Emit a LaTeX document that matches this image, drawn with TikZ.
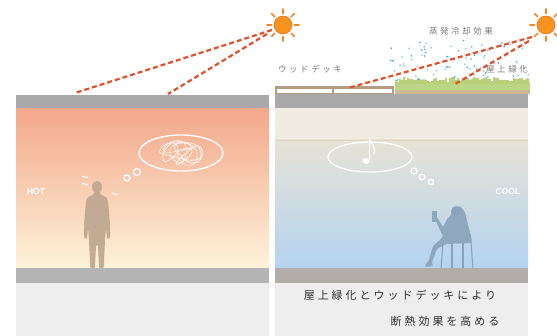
\documentclass[tikz,border=0pt]{standalone}
\usepackage{fontspec}
\newfontfamily\jp{Noto Sans CJK JP}
\newfontfamily\lat{Liberation Sans}
\usetikzlibrary{calc}

\definecolor{slab}{HTML}{A9A9A9}
\definecolor{floorL}{HTML}{B4B4B4}
\definecolor{floorR}{HTML}{B2ADA9}
\definecolor{basebox}{HTML}{EEEEEE}
\definecolor{raycol}{HTML}{E0502A}
\definecolor{sunfill}{HTML}{F7931E}
\definecolor{sunedge}{HTML}{EC701A}
\definecolor{sunray}{HTML}{F5841F}
\definecolor{deck}{HTML}{B39C82}
\definecolor{grass}{HTML}{BCD784}
\definecolor{soil}{HTML}{CDB894}
\definecolor{labelgrey}{HTML}{7A7A7A}
\definecolor{captiongrey}{HTML}{2E2E2E}
\definecolor{mancol}{HTML}{BDA68E}
\definecolor{womancol}{HTML}{8AA3BA}
\definecolor{hotTop}{HTML}{F3A78A}
\definecolor{hotMid}{HTML}{F8C79E}
\definecolor{hotBot}{HTML}{FDF3DA}
\definecolor{coolTop}{HTML}{F0ECE1}
\definecolor{coolUpper}{HTML}{E7E3D6}
\definecolor{coolMid}{HTML}{CCD5DB}
\definecolor{coolBot}{HTML}{B4D3F1}
\definecolor{mistA}{HTML}{3BA6DC}
\definecolor{mistB}{HTML}{9CCBE0}

\tikzset{
  sunray/.style={draw=sunray, line width=1.6pt, line cap=round},
  sundisc/.style={circle, fill=sunfill, draw=sunedge, line width=0.6pt, minimum size=18pt, inner sep=0pt},
  heatray/.style={draw=raycol, line width=2.2pt, dash pattern=on 5pt off 3pt},
  bubble/.style={draw=white, line width=1.3pt},
  labeltext/.style={text=labelgrey, font=\jp\fontsize{8.5}{10}\selectfont\addfontfeature{LetterSpace=30}},
  caption/.style={text=captiongrey, font=\jp\fontsize{11}{13}\selectfont\addfontfeature{LetterSpace=27}},
  tempword/.style={text=white, font=\lat\bfseries\fontsize{8.5}{10}\selectfont},
  figure/.style={fill=#1, draw=none, opacity=0.9, rounded corners=1pt}
}

\newcommand{\sunat}[2]{%
  \foreach \a in {0,45,...,315}
    \draw[sunray] ($(#1)+(\a:11.5pt)$) -- ($(#1)+(\a:16pt)$);
  \node[sundisc] (#2) at (#1) {};
}

\begin{document}
\begin{tikzpicture}[x=1pt,y=-1pt]
\useasboundingbox (0,0) rectangle (557,336);

% ---------- left house: hot interior ----------
\shade[top color=hotTop, middle color=hotMid, bottom color=hotBot] (16,108) rectangle (269,268);
\fill[slab] (16,95) rectangle (269,108);
\fill[floorL] (16,268) rectangle (269,283);
\fill[basebox] (16,283) rectangle (269,336);

% ---------- right house: cool interior ----------
\fill[coolTop] (275,108) rectangle (528,140);
\shade[top color=coolUpper, middle color=coolMid, bottom color=coolBot] (275,140) rectangle (528,268);
\draw[draw=coolUpper!85!brown, line width=0.6pt] (275,140) -- (528,140);
\fill[slab] (275,94) rectangle (528,108);
\fill[floorR] (275,268) rectangle (528,283);
\fill[basebox] (275,283) rectangle (528,336);

% wooden deck
\fill[deck] (275,86) rectangle (394,89);
\fill[white] (275,89) rectangle (394,93);
\fill[deck] (275,93) rectangle (394,94);
\foreach \px in {275,332,392}
  \fill[deck] (\px,89) rectangle (\px+2,93);

% roof greening
\fill[soil] (395,86) rectangle (530,94);
\fill[grass] (395,82) rectangle (530,90);
\pgfmathsetseed{11}
\foreach \i in {0,...,66} {
  \pgfmathsetmacro\gx{396+2*\i}
  \pgfmathsetmacro\gh{77+5*rnd}
  \draw[grass!92!olive, line width=1.4pt] (\gx,84) -- (\gx,\gh);
}

% evaporative mist
\pgfmathsetseed{5}
\foreach \i in {1,...,80} {
  \pgfmathsetmacro\mx{385+145*rnd}
  \pgfmathsetmacro\my{40+40*rnd}
  \pgfmathsetmacro\mc{rnd}
  \ifdim \mc pt<0.5pt
    \fill[mistA] (\mx,\my) circle (0.9pt);
  \else
    \fill[mistB] (\mx,\my) circle (1pt);
  \fi
}

% ---------- suns and heat rays ----------
\coordinate (sunApos) at (283,25);
\coordinate (sunBpos) at (546,25);
\sunat{sunApos}{sunA}
\sunat{sunBpos}{sunB}

\coordinate (rayA1s) at (272,30);
\coordinate (rayA2s) at (267,34);
\coordinate (roofA1) at (75,93);
\coordinate (roofA2) at (168,94);
\coordinate (rayB1s) at (532,37);
\coordinate (rayB2s) at (529,41);
\coordinate (deckHit) at (348,88);
\coordinate (grassHit) at (455,84);
\draw[heatray] (rayA1s) -- (roofA1);
\draw[heatray] (rayA2s) -- (roofA2);
\draw[heatray] (rayB1s) -- (deckHit);
\draw[heatray] (rayB2s) -- (grassHit);

% ---------- labels ----------
\node[labeltext] (mist) at (461,31) {蒸発冷却効果};
\node[labeltext] (deckLabel) at (310,69) {ウッドデッキ};
\node[labeltext] (greenLabel) at (507,69) {屋上緑化};
\node[tempword] (hot) at (36,192) {HOT};
\node[tempword] (cool) at (508,192) {COOL};
\node[caption] (cap1) at (400,295) {屋上緑化とウッドデッキにより};
\node[caption] (cap2) at (445,321) {断熱効果を高める};

% ---------- thought bubbles ----------
\draw[bubble] (181,153) ellipse [x radius=42pt, y radius=18pt];
\draw[white, line width=0.7pt, opacity=0.9]
  plot[smooth cycle, tension=0.9] coordinates {
    (160,150) (170,143) (178,148) (172,158) (163,160) (168,146) (183,142)
    (192,150) (185,160) (176,164) (186,153) (198,146) (202,156) (193,163)
    (181,156) (175,145) (190,143) (200,150) (195,160) (167,155)};
\draw[white, line width=0.6pt, opacity=0.8]
  plot[smooth cycle, tension=1] coordinates {
    (165,152) (174,141) (186,147) (180,163) (170,149) (189,144) (197,158)
    (186,165) (178,152) (194,148)};
\draw[bubble] (137,172) circle (3.5pt);
\draw[bubble] (127,178) circle (3pt);
\draw[white, line width=1pt] (82,177) .. controls (84,174.5) and (86,179.5) .. (88,177);
\draw[white, line width=1pt] (82,184) .. controls (84,181.5) and (86,186.5) .. (88,184);
\draw[white, line width=1pt] (112,194) .. controls (114,191.5) and (116,196.5) .. (118,194);

\draw[bubble] (370,157) ellipse [x radius=42pt, y radius=15pt];
\fill[white, rotate around={-25:(366,161)}] (366,161) ellipse [x radius=3.8pt, y radius=2.8pt];
\draw[white, line width=1.3pt] (369.4,160) -- (369.4,139);
\draw[white, line width=1.2pt] (369.4,139) .. controls (371,144) and (376,146) .. (374,154);
\draw[bubble] (414,171) circle (3pt);
\draw[bubble] (422,177) circle (2.8pt);
\draw[bubble] (431,182) circle (2.6pt);

% ---------- people ----------
% standing man
\fill[mancol, opacity=0.9] (97,187) ellipse [x radius=5pt, y radius=6pt];
\fill[figure=mancol]
  (94,192) -- (100,192) -- (101,195) -- (106,197) -- (108,201) -- (109,212) -- (110,225)
  -- (110,238) -- (107,239) -- (106,228) -- (105,240) -- (104,262) -- (104,268)
  -- (99,268) -- (98,245) -- (96,245) -- (95,268) -- (90,268) -- (90,262)
  -- (89,240) -- (88,228) -- (87,239) -- (84,238) -- (84,225) -- (85,212)
  -- (86,201) -- (88,197) -- (93,195) -- cycle;

% seated woman on a stool
\fill[womancol, opacity=0.9] (456,211) circle (5pt);
\fill[figure=womancol]
  (452,209) -- (460,206) -- (465,212) -- (468,225) -- (471,236) -- (472,243)
  -- (446,244) -- (437,249) -- (432,262) -- (433,266) -- (425,267) -- (426,264)
  -- (429,260) -- (433,246) -- (440,240) -- (443,236) -- (438,226) -- (435,218)
  -- (437,217) -- (443,227) -- (447,219) -- (451,215) -- cycle;
\fill[womancol, opacity=0.9] (432,211) rectangle (437,222);
\foreach \sx/\fx in {443/441,452/452,463/463,471/473}
  \draw[womancol, line width=1.1pt] (\sx,243) -- (\fx,268);
\end{tikzpicture}
\end{document}
